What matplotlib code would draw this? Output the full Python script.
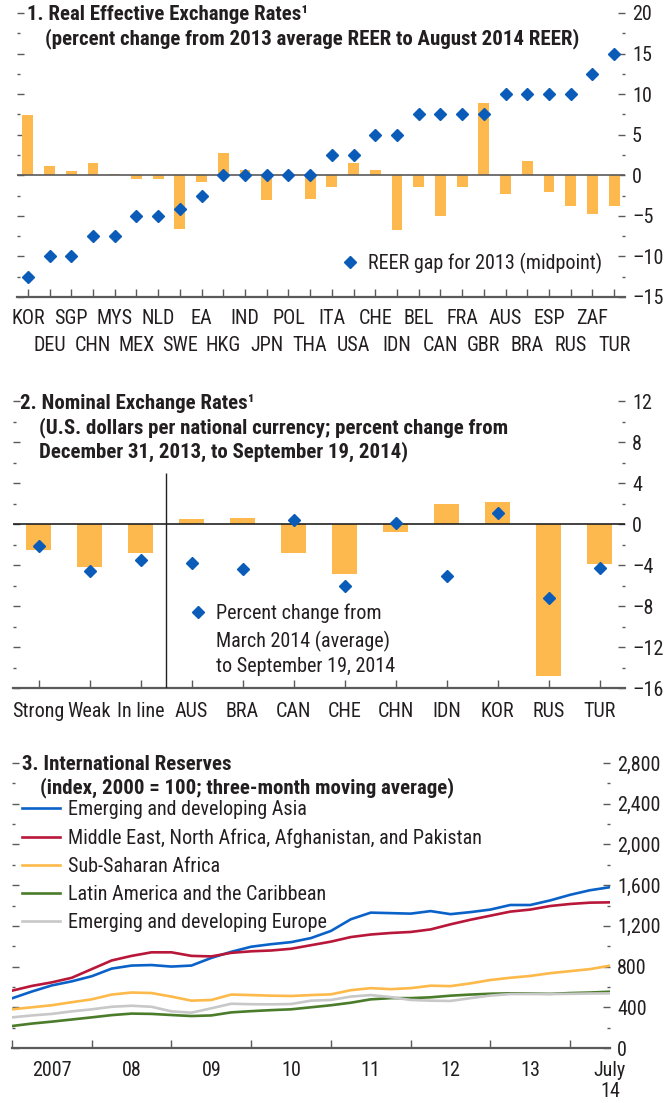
# IMF-style three panel chart: REER, nominal exchange rates, reserves

import numpy as np
import matplotlib
matplotlib.use('Agg')
import matplotlib.pyplot as plt

plt.rcParams['font.family'] = ['Roboto Condensed', 'DejaVu Sans']

# ---- panel 1 data
reer_countries = ['KOR', 'DEU', 'SGP', 'CHN', 'MYS', 'MEX', 'NLD', 'SWE', 'EA', 'HKG',
                  'IND', 'JPN', 'POL', 'THA', 'ITA', 'USA', 'CHE', 'IDN', 'BEL', 'CAN',
                  'FRA', 'GBR', 'AUS', 'BRA', 'ESP', 'RUS', 'ZAF', 'TUR']
reer_change = [7.4, 1.15, 0.5, 1.5, 0.1, -0.4, -0.4, -6.6, -0.8, 2.7,
               0.6, -3.1, 0.2, -2.9, -1.4, 1.5, 0.6, -6.7, -1.4, -5.0,
               -1.4, 8.9, -2.3, 1.8, -2.1, -3.8, -4.8, -3.8]
reer_gap = [-12.5, -10, -10, -7.5, -7.5, -5, -5, -4.1, -2.5, 0,
            0, 0, 0, 0, 2.5, 2.5, 5, 5, 7.5, 7.5,
            7.5, 7.5, 10, 10, 10, 10, 12.5, 15]
reer_yticks = [-15, -10, -5, 0, 5, 10, 15, 20]
reer_ylabels = ['\u201315', '\u201310', '\u20135', '0', '5', '10', '15', '20']

# ---- panel 2 data
ner_groups = ['Strong', 'Weak', 'In line', 'AUS', 'BRA', 'CAN', 'CHE', 'CHN',
              'IDN', 'KOR', 'RUS', 'TUR']
ner_change = [-2.5, -4.2, -2.8, 0.5, 0.6, -2.8, -4.9, -0.75, 2.0, 2.1, -14.8, -3.9]
ner_march = [-2.1, -4.6, -3.5, -3.8, -4.4, 0.4, -6.0, 0.1, -5.1, 1.05, -7.2, -4.3]
ner_yticks = [-16, -12, -8, -4, 0, 4, 8, 12]
ner_ylabels = ['\u201316', '\u201312', '\u20138', '\u20134', '0', '4', '8', '12']

# ---- panel 3 data (quarterly readings, 2007Q1 .. July 2014)
res_time = np.arange(2007.0, 2014.51, 0.25)
res_asia = [488, 555, 615, 655, 705, 780, 810, 815, 800, 810, 885, 945, 995, 1020, 1040, 1080,
            1150, 1265, 1330, 1325, 1320, 1345, 1315, 1335, 1360, 1405, 1405, 1450, 1505, 1550, 1580]
res_menap = [563, 610, 645, 690, 775, 860, 905, 940, 940, 905, 900, 935, 950, 958, 975, 1010,
             1045, 1090, 1115, 1130, 1140, 1165, 1215, 1260, 1300, 1340, 1360, 1395, 1415, 1428, 1431]
res_ssa = [380, 400, 420, 450, 478, 525, 545, 540, 505, 465, 472, 525, 520, 514, 511, 520,
           527, 568, 588, 578, 588, 612, 608, 635, 668, 690, 708, 735, 755, 775, 809]
res_latam = [216, 240, 259, 280, 301, 323, 338, 335, 324, 314, 320, 350, 362, 372, 380, 400,
             420, 445, 478, 490, 490, 498, 514, 525, 533, 537, 535, 532, 540, 545, 553]
res_europe = [301, 320, 335, 360, 380, 405, 415, 405, 360, 347, 390, 435, 430, 429, 432, 465,
              472, 505, 520, 500, 472, 465, 462, 490, 515, 530, 530, 530, 532, 535, 537]
res_names = ['Emerging and developing Asia',
             'Middle East, North Africa, Afghanistan, and Pakistan',
             'Sub-Saharan Africa',
             'Latin America and the Caribbean',
             'Emerging and developing Europe']
res_yticks = [0, 400, 800, 1200, 1600, 2000, 2400, 2800]
res_ylabels = ['0', '400', '800', '1,200', '1,600', '2,000', '2,400', '2,800']
res_year_ticks = list(range(2007, 2015))
res_label_pos = [2007.5, 2008.5, 2009.5, 2010.5, 2011.5, 2012.5, 2013.5, 2014.5]
res_labels = ['2007', '08', '09', '10', '11', '12', '13', 'July\n14']

BAR = '#fdb94d'
DIAM = '#0b5cb8'
TXT = '#231f20'
GRID = '#5a5a5a'
FS = 14.5
TFS = 15

W, H = 665, 1103
fig = plt.figure(figsize=(W / 100, H / 100), dpi=100)


def px_axes(l, t, r, b):
    return fig.add_axes([l / W, 1 - b / H, (r - l) / W, (b - t) / H])


def ftext(x, y, s, **kw):
    fig.text(x / W, 1 - y / H, s, va='center', ha='left', color=TXT, **kw)


def style(ax):
    for s in ['top', 'left', 'right']:
        ax.spines[s].set_visible(False)
    ax.spines['bottom'].set_color(GRID)
    ax.spines['bottom'].set_linewidth(1.6)
    ax.tick_params(axis='y', which='both', left=True, right=True, labelleft=False,
                   labelright=True, direction='in', color=GRID, labelcolor=TXT,
                   labelsize=FS, pad=5)
    ax.tick_params(axis='y', which='major', length=5, width=1)
    ax.tick_params(axis='y', which='minor', length=2.5, width=1)
    ax.tick_params(axis='x', which='both', direction='in', length=6, width=1,
                   color=GRID, labelcolor=TXT, labelsize=FS)
    ax.patch.set_visible(False)


# ---- panel 1
ax1 = px_axes(17, 13, 625, 297)
style(ax1)
x1 = np.arange(len(reer_countries))
ax1.bar(x1, reer_change, width=0.5, color=BAR, zorder=2)
ax1.axhline(0, color=GRID, lw=1.2, zorder=3)
ax1.plot(x1, reer_gap, 'D', color=DIAM, ms=6.5, ls='none', zorder=4,
         label='REER gap for 2013 (midpoint)')
ax1.set_xlim(-0.5, 27.5)
ax1.set_ylim(-15, 20)
ax1.set_yticks(reer_yticks)
ax1.set_yticklabels(reer_ylabels)
ax1.set_yticks(np.arange(-12.5, 20, 5), minor=True)
# alternate the country labels on two rows
ax1.set_xticks(x1[::2])
ax1.set_xticklabels(reer_countries[::2])
ax1.set_xticks(x1[1::2], minor=True)
ax1.set_xticklabels(reer_countries[1::2], minor=True)
ax1.tick_params(axis='x', which='major', pad=9)
ax1.tick_params(axis='x', which='minor', pad=28)
ax1.legend(loc='center left', bbox_to_anchor=(342 / W, 1 - 263 / H),
           bbox_transform=fig.transFigure, frameon=False, fontsize=FS,
           handlelength=0.8, handletextpad=0.5, borderpad=0, borderaxespad=0,
           labelcolor=TXT)
ftext(27, 14, '1. Real Effective Exchange Rates\u00b9', fontsize=TFS, fontweight='bold')
ftext(45, 39, '(percent change from 2013 average REER to August 2014 REER)',
      fontsize=TFS, fontweight='bold')

# ---- panel 2
ax2 = px_axes(13, 401, 625, 688)
style(ax2)
x2 = np.arange(len(ner_groups))
ax2.bar(x2, ner_change, width=0.5, color=BAR, zorder=2)
ax2.axhline(0, color='#222222', lw=1.2, zorder=3)
ax2.vlines(2.5, -16, 5, color='#222222', lw=1, zorder=3)
ax2.plot(x2, ner_march, 'D', color=DIAM, ms=6.5, ls='none', zorder=4,
         label='Percent change from')
ax2.set_xlim(-0.5, 11.5)
ax2.set_ylim(-16, 12)
ax2.set_yticks(ner_yticks)
ax2.set_yticklabels(ner_ylabels)
ax2.set_yticks(np.arange(-14, 12, 4), minor=True)
ax2.set_xticks(x2)
ax2.set_xticklabels(ner_groups)
ax2.tick_params(axis='x', pad=10)
ax2.legend(loc='center left', bbox_to_anchor=(190 / W, 1 - 613 / H),
           bbox_transform=fig.transFigure, frameon=False, fontsize=FS,
           handlelength=0.8, handletextpad=0.5, borderpad=0, borderaxespad=0,
           labelcolor=TXT)
ftext(216, 641, 'March 2014 (average)', fontsize=FS)
ftext(216, 667, 'to September 19, 2014', fontsize=FS)
ftext(20, 403, '2. Nominal Exchange Rates\u00b9', fontsize=TFS, fontweight='bold')
ftext(39, 428, '(U.S. dollars per national currency; percent change from',
      fontsize=TFS, fontweight='bold')
ftext(39, 452, 'December 31, 2013, to September 19, 2014)', fontsize=TFS, fontweight='bold')

# ---- panel 3
ax3 = px_axes(12, 763, 610, 1048)
style(ax3)
series = [res_asia, res_menap, res_ssa, res_latam, res_europe]
colors = ['#0a62c8', '#b8173a', '#fdb94a', '#4a7c2a', '#c8c8c8']
for vals, name, c in zip(series, res_names, colors):
    ax3.plot(res_time, vals, color=c, lw=1.9, label=name)
ax3.set_xlim(2007, 2014.5)
ax3.set_ylim(0, 2800)
ax3.set_yticks(res_yticks)
ax3.set_yticklabels(res_ylabels)
ax3.set_yticks(np.arange(200, 2800, 400), minor=True)
ax3.set_xticks(res_year_ticks)
ax3.set_xticklabels([])
ax3.set_xticks(res_label_pos, minor=True)
ax3.set_xticklabels(res_labels, minor=True, linespacing=1.15)
ax3.tick_params(axis='x', which='minor', length=0, labelsize=FS, labelcolor=TXT, pad=9)
ax3.legend(loc='upper left', bbox_to_anchor=(22 / W, 1 - 800 / H),
           bbox_transform=fig.transFigure, frameon=False, fontsize=FS,
           handlelength=1.9, handletextpad=0.4, labelspacing=0.45,
           borderpad=0, borderaxespad=0, labelcolor=TXT)
ftext(22, 764, '3. International Reserves', fontsize=TFS, fontweight='bold')
ftext(40, 788, '(index, 2000 = 100; three-month moving average)', fontsize=TFS,
      fontweight='bold')

fig.savefig('out.png', dpi=100)
